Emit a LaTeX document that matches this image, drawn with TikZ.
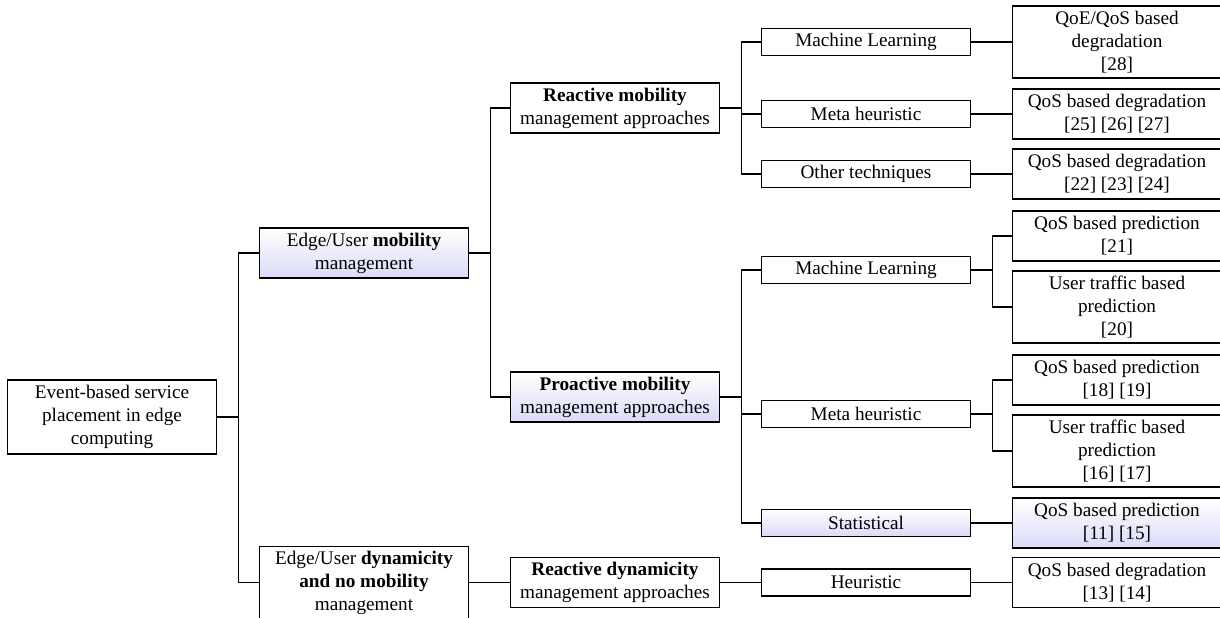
\documentclass[tikz,border=0pt]{standalone}
\usepackage{fontspec}
\setmainfont{Liberation Serif}
\usetikzlibrary{positioning}

\tikzset{
  box/.style={draw, line width=0.6pt, align=center, minimum width=108.7pt, inner sep=2pt},
  onebox/.style={box, minimum height=14pt},
  twobox/.style={box, minimum height=26pt},
  threebox/.style={box, minimum height=37.4pt},
  tinted/.style={top color=white, bottom color={rgb,255:red,218;green,218;blue,248}},
  link/.style={line width=0.6pt}
}

\begin{document}
\begin{tikzpicture}[x=0.52pt, y=-0.52pt]

% page frame
\useasboundingbox (0,0) rectangle (1220,618);
\clip (0,0) rectangle (1220,618);

% root
\node[threebox, minimum height=38.5pt] (root) at (112,417) {Event-based service\\placement in edge\\computing};

% level 2
\node[twobox, tinted] (mob) at (364,253) {Edge/User \textbf{mobility}\\management};
\node[threebox] (dyn) at (364,582.5) {Edge/User \textbf{dynamicity}\\\textbf{and no mobility}\\management};

% level 3
\node[twobox] (reactmob) at (615,108) {\textbf{Reactive mobility}\\management approaches};
\node[twobox, tinted] (proactmob) at (615,397) {\textbf{Proactive mobility}\\management approaches};
\node[twobox] (reactdyn) at (615,582.5) {\textbf{Reactive dynamicity}\\management approaches};

% level 4
\node[onebox] (rml) at (866,42) {Machine Learning};
\node[onebox] (rmeta) at (866,114) {Meta heuristic};
\node[onebox] (rother) at (866,174) {Other techniques};
\node[onebox] (pml) at (866,270) {Machine Learning};
\node[onebox] (pmeta) at (866,414) {Meta heuristic};
\node[onebox, tinted] (pstat) at (866,523) {Statistical};
\node[onebox] (dheur) at (866,582.5) {Heuristic};

% level 5 (references)
\node[threebox] (rmlref) at (1117,42) {QoE/QoS based\\degradation\\{[28]}};
\node[twobox] (rmetaref) at (1117,114) {QoS based degradation\\{[25] [26] [27]}};
\node[twobox] (rotherref) at (1117,174) {QoS based degradation\\{[22] [23] [24]}};
\node[twobox] (pmlqos) at (1117,236) {QoS based prediction\\{[21]}};
\node[threebox] (pmluser) at (1117,307) {User traffic based\\prediction\\{[20]}};
\node[twobox] (pmetaqos) at (1117,380) {QoS based prediction\\{[18] [19]}};
\node[threebox] (pmetauser) at (1117,451) {User traffic based\\prediction\\{[16] [17]}};
\node[twobox, tinted] (pstatref) at (1117,523) {QoS based prediction\\{[11] [15]}};
\node[twobox] (dheurref) at (1117,582.5) {QoS based degradation\\{[13] [14]}};

% elbow connectors
\foreach \c in {mob,dyn}
  \draw[link] (root.east) -- ++(21,0) |- (\c.west);
\foreach \c in {reactmob,proactmob}
  \draw[link] (mob.east) -- ++(21,0) |- (\c.west);
\draw[link] (dyn.east) -- (reactdyn.west);
\foreach \c in {rml,rmeta,rother}
  \draw[link] (reactmob.east) -- ++(21,0) |- (\c.west);
\foreach \c in {pml,pmeta,pstat}
  \draw[link] (proactmob.east) -- ++(21,0) |- (\c.west);
\draw[link] (reactdyn.east) -- (dheur.west);

% leaves
\foreach \a/\b in {rml/rmlref,rmeta/rmetaref,rother/rotherref,pstat/pstatref,dheur/dheurref}
  \draw[link] (\a.east) -- (\b.west);
\foreach \c in {pmlqos,pmluser}
  \draw[link] (pml.east) -- ++(21,0) |- (\c.west);
\foreach \c in {pmetaqos,pmetauser}
  \draw[link] (pmeta.east) -- ++(21,0) |- (\c.west);

\end{tikzpicture}
\end{document}
